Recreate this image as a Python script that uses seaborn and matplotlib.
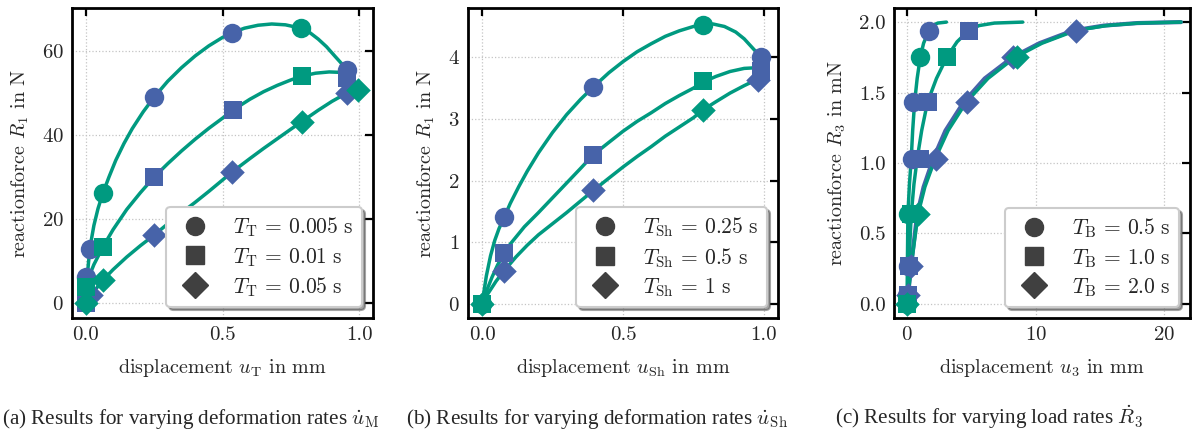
import matplotlib
matplotlib.use("Agg")
import matplotlib.pyplot as plt
import seaborn as sns
from matplotlib.lines import Line2D

# ---------------- data ----------------
# panel (a): displacement u_T [mm] vs reaction force R_1 [N]
a_circ_line_x = [0, 0.003, 0.008, 0.015, 0.03, 0.045, 0.063, 0.085, 0.11, 0.14, 0.17, 0.21, 0.25, 0.3, 0.35, 0.4,
                 0.45, 0.5, 0.535, 0.58, 0.63, 0.68, 0.73, 0.787, 0.82, 0.85, 0.88, 0.91, 0.935, 0.955, 0.965]
a_circ_line_y = [0, 4, 8, 13, 18.5, 22.5, 26.2, 30, 34, 38, 41.5, 45.5, 49, 52.8, 56, 58.8,
                 61.2, 63.2, 64.3, 65.4, 66.1, 66.4, 66.2, 65.4, 64.3, 62.8, 61, 58.8, 57, 55.5, 54.5]
a_sq_line_x = [0, 0.0, 0.01, 0.03, 0.063, 0.1, 0.15, 0.2, 0.25, 0.3, 0.35, 0.4, 0.45, 0.5, 0.535, 0.6, 0.65,
               0.7, 0.75, 0.79, 0.84, 0.89, 0.93, 0.96]
a_sq_line_y = [0, 3.8, 6, 9.2, 13.4, 17.5, 22.3, 26.3, 30, 33.2, 36.2, 39, 41.6, 44, 45.8, 48.5, 50.3,
               51.8, 53.1, 54, 54.7, 55, 54.9, 54.5]
a_dia_line_x = [0, 0.02, 0.063, 0.1, 0.15, 0.2, 0.25, 0.3, 0.35, 0.4, 0.45, 0.5, 0.535, 0.6, 0.65, 0.7, 0.75,
                0.79, 0.85, 0.9, 0.955, 1.0]
a_dia_line_y = [0, 2, 5.5, 8.0, 11, 13.7, 16.2, 18.9, 21.5, 24, 26.6, 29.3, 31.2, 34.4, 36.8, 39.1, 41.4,
                43.2, 45.9, 48, 50, 51]

a_circ_blue_x = [0.0, 0.015, 0.25, 0.535, 0.955]
a_circ_blue_y = [6.2, 13, 49, 64.3, 55.5]
a_sq_blue_x = [0.0, 0.25, 0.54, 0.955]
a_sq_blue_y = [0.0, 30, 46, 53.5]
a_dia_blue_x = [0.02, 0.25, 0.535, 0.955]
a_dia_blue_y = [2, 16.2, 31.2, 50]
a_circ_teal_x = [0.063, 0.787]
a_circ_teal_y = [26.2, 65.4]
a_sq_teal_x = [0.0, 0.063, 0.79]
a_sq_teal_y = [3.8, 13.4, 54]
a_dia_teal_x = [0.0, 0.063, 0.79, 0.995]
a_dia_teal_y = [0, 5.5, 43.2, 50.8]

# panel (b): displacement u_Sh [mm] vs reaction force R_1 [N]
b_circ_line_x = [0, 0.005, 0.015, 0.03, 0.045, 0.06, 0.079, 0.1, 0.13, 0.16, 0.2, 0.25, 0.3, 0.35, 0.395, 0.45,
                 0.5, 0.55, 0.6, 0.65, 0.7, 0.75, 0.785, 0.82, 0.86, 0.9, 0.93, 0.96, 0.98, 0.99]
b_circ_line_y = [0, 0.15, 0.45, 0.78, 1.03, 1.22, 1.41, 1.63, 1.9, 2.15, 2.45, 2.78, 3.07, 3.32, 3.52, 3.75,
                 3.93, 4.09, 4.22, 4.34, 4.43, 4.5, 4.53, 4.54, 4.5, 4.41, 4.3, 4.15, 4.05, 3.98]
b_sq_line_x = [0, 0.015, 0.035, 0.055, 0.079, 0.1, 0.15, 0.2, 0.25, 0.3, 0.35, 0.395, 0.45, 0.5, 0.55, 0.6,
               0.65, 0.7, 0.75, 0.785, 0.83, 0.88, 0.93, 0.97, 0.99]
b_sq_line_y = [0, 0.2, 0.43, 0.63, 0.83, 0.97, 1.25, 1.48, 1.72, 1.96, 2.2, 2.42, 2.62, 2.8, 2.96, 3.1,
               3.25, 3.38, 3.5, 3.6, 3.69, 3.77, 3.82, 3.83, 3.82]
b_dia_line_x = [0, 0.02, 0.05, 0.079, 0.12, 0.16, 0.2, 0.25, 0.3, 0.35, 0.395, 0.45, 0.5, 0.55, 0.6, 0.65,
                0.7, 0.75, 0.785, 0.83, 0.88, 0.93, 0.98]
b_dia_line_y = [0, 0.16, 0.37, 0.54, 0.76, 0.95, 1.12, 1.3, 1.48, 1.67, 1.84, 2.04, 2.22, 2.39, 2.55, 2.72,
                2.87, 3.02, 3.15, 3.28, 3.42, 3.54, 3.65]

b_circ_blue_x = [0.079, 0.395, 0.99]
b_circ_blue_y = [1.41, 3.52, 4.0]
b_sq_blue_x = [0.079, 0.395, 0.99]
b_sq_blue_y = [0.83, 2.42, 3.77]
b_dia_blue_x = [0.079, 0.395, 0.98]
b_dia_blue_y = [0.54, 1.84, 3.63]
b_circ_teal_x = [0, 0.785]
b_circ_teal_y = [0, 4.52]
b_sq_teal_x = [0, 0.785]
b_sq_teal_y = [0, 3.62]
b_dia_teal_x = [0, 0.785]
b_dia_teal_y = [0, 3.15]

# panel (c): displacement u_3 [mm] vs reaction force R_3 [mN]
c_circ_line_x = [0, 0.02, 0.04, 0.08, 0.2, 0.34, 0.45, 0.6, 0.8, 1.04, 1.3, 1.71, 2.0, 2.4, 3.07]
c_circ_line_y = [0, 0.066, 0.27, 0.635, 0.85, 1.03, 1.23, 1.43, 1.6, 1.75, 1.85, 1.94, 1.975, 1.993, 2.0]
c_sq_line_x = [0, 0.05, 0.15, 0.34, 0.55, 0.8, 1.15, 1.6, 2.3, 3.1, 3.9, 4.8, 5.6, 6.8, 9.0]
c_sq_line_y = [0, 0.066, 0.27, 0.635, 0.85, 1.03, 1.23, 1.43, 1.6, 1.75, 1.86, 1.94, 1.975, 1.993, 2.0]
c_dia_line_x = [0, 0.1, 0.34, 0.86, 1.4, 2.2, 3.2, 4.6, 6.3, 8.4, 10.5, 13.1, 15.5, 18.0, 21.3]
c_dia_line_y = [0, 0.066, 0.27, 0.635, 0.83, 1.03, 1.23, 1.43, 1.6, 1.75, 1.85, 1.94, 1.975, 1.993, 2.0]
c_dia_line2_x = [0, 0.1, 0.32, 0.8, 1.3, 2.05, 3.0, 4.4, 6.05, 8.2, 10.3, 12.9, 15.3, 17.9, 21.3]
c_dia_line2_y = [0, 0.066, 0.27, 0.635, 0.83, 1.03, 1.23, 1.43, 1.6, 1.75, 1.85, 1.94, 1.975, 1.993, 2.0]

c_circ_blue_x = [0.0, 0.1, 0.4, 0.5, 1.71]
c_circ_blue_y = [0.066, 0.27, 1.03, 1.43, 1.94]
c_sq_blue_x = [0.05, 0.15, 0.99, 1.64, 4.83]
c_sq_blue_y = [0.066, 0.27, 1.03, 1.43, 1.94]
c_dia_blue_x = [0.1, 0.34, 2.29, 4.7, 8.26, 13.14]
c_dia_blue_y = [0.066, 0.27, 1.03, 1.43, 1.75, 1.94]
c_circ_teal_x = [0, 0.05, 1.04]
c_circ_teal_y = [0, 0.635, 1.75]
c_sq_teal_x = [0, 0.3, 3.14]
c_sq_teal_y = [0, 0.635, 1.75]
c_dia_teal_x = [0, 0.86, 8.52]
c_dia_teal_y = [0, 0.635, 1.75]

a_labels = [r"$T_\mathrm{T}\,=\,0.005\ \mathrm{s}$", r"$T_\mathrm{T}\,=\,0.01\ \mathrm{s}$", r"$T_\mathrm{T}\,=\,0.05\ \mathrm{s}$"]
b_labels = [r"$T_\mathrm{Sh}\,=\,0.25\ \mathrm{s}$", r"$T_\mathrm{Sh}\,=\,0.5\ \mathrm{s}$", r"$T_\mathrm{Sh}\,=\,1\ \mathrm{s}$"]
c_labels = [r"$T_\mathrm{B}\,=\,0.5\ \mathrm{s}$", r"$T_\mathrm{B}\,=\,1.0\ \mathrm{s}$", r"$T_\mathrm{B}\,=\,2.0\ \mathrm{s}$"]

captions = [r"(a) Results for varying deformation rates $\dot{u}_\mathrm{M}$",
            r"(b) Results for varying deformation rates $\dot{u}_\mathrm{Sh}$",
            r"(c) Results for varying load rates $\dot{R}_3$"]

# ---------------- style ----------------
BLUE = "#4763A9"
TEAL = "#009A80"
DARK = "#404040"

sns.set_theme(style="white")
plt.rcParams.update({
    "font.family": ["cmr10"],
    "mathtext.fontset": "cm",
    "axes.formatter.use_mathtext": True,
    "axes.unicode_minus": False,
})

FS_TICK = 15
FS_LAB = 14.5
FS_LEG = 15.5
fig = plt.figure(figsize=(11.92, 4.33), dpi=100)
W, H = 1192, 433
def pos(l, r, t=8, b=318):
    return [l / W, 1 - b / H, (r - l) / W, (b - t) / H]

ax_a = fig.add_axes(pos(72, 373))
ax_b = fig.add_axes(pos(468, 778))
ax_c = fig.add_axes(pos(894, 1190))

markers = ["o", "s", "D"]
msz = {"o": 14, "s": 12.7, "D": 12.5}
leg_ms = {"o": 13, "s": 13, "D": 13}
LW = 2.5


def draw(ax, lines, blues, teals, extra_blue_lines=()):
    for lx, ly in extra_blue_lines:
        sns.lineplot(x=lx, y=ly, ax=ax, color=BLUE, lw=LW + 0.5, sort=False, estimator=None, zorder=2)
    for lx, ly in lines:
        sns.lineplot(x=lx, y=ly, ax=ax, color=TEAL, lw=LW, sort=False, estimator=None, zorder=2.5)
    for m, (bx, by) in zip(markers, blues):
        sns.scatterplot(x=bx, y=by, ax=ax, color=BLUE, marker=m, s=msz[m] ** 2, linewidth=0, zorder=3)
    for m, (tx, ty) in zip(markers, teals):
        sns.scatterplot(x=tx, y=ty, ax=ax, color=TEAL, marker=m, s=msz[m] ** 2, linewidth=0, zorder=3.5)


draw(ax_a,
     [(a_circ_line_x, a_circ_line_y), (a_sq_line_x, a_sq_line_y), (a_dia_line_x, a_dia_line_y)],
     [(a_circ_blue_x, a_circ_blue_y), (a_sq_blue_x, a_sq_blue_y), (a_dia_blue_x, a_dia_blue_y)],
     [(a_circ_teal_x, a_circ_teal_y), (a_sq_teal_x, a_sq_teal_y), (a_dia_teal_x, a_dia_teal_y)])
draw(ax_b,
     [(b_circ_line_x, b_circ_line_y), (b_sq_line_x, b_sq_line_y), (b_dia_line_x, b_dia_line_y)],
     [(b_circ_blue_x, b_circ_blue_y), (b_sq_blue_x, b_sq_blue_y), (b_dia_blue_x, b_dia_blue_y)],
     [(b_circ_teal_x, b_circ_teal_y), (b_sq_teal_x, b_sq_teal_y), (b_dia_teal_x, b_dia_teal_y)])
draw(ax_c,
     [(c_circ_line_x, c_circ_line_y), (c_sq_line_x, c_sq_line_y), (c_dia_line_x, c_dia_line_y)],
     [(c_circ_blue_x, c_circ_blue_y), (c_sq_blue_x, c_sq_blue_y), (c_dia_blue_x, c_dia_blue_y)],
     [(c_circ_teal_x, c_circ_teal_y), (c_sq_teal_x, c_sq_teal_y), (c_dia_teal_x, c_dia_teal_y)],
     extra_blue_lines=[(c_dia_line2_x, c_dia_line2_y)])

ax_a.set_xlim(-0.05, 1.05)
ax_a.set_ylim(-3.5, 70.2)
ax_b.set_xlim(-0.05, 1.05)
ax_b.set_ylim(-0.23, 4.8)
ax_c.set_xlim(-1.0, 22.0)
ax_c.set_ylim(-0.1, 2.1)
ax_a.set_xticks([0.0, 0.5, 1.0])
ax_b.set_xticks([0.0, 0.5, 1.0])
ax_c.set_xticks([0, 10, 20])
ax_a.set_yticks([0, 20, 40, 60])
ax_b.set_yticks([0, 1, 2, 3, 4])
ax_c.set_yticks([0.0, 0.5, 1.0, 1.5, 2.0])
ax_a.set_xticklabels(["0.0", "0.5", "1.0"])
ax_b.set_xticklabels(["0.0", "0.5", "1.0"])
ax_c.set_yticklabels(["0.0", "0.5", "1.0", "1.5", "2.0"])

xlabels = [r"displacement $u_\mathrm{T}$ in mm", r"displacement $u_\mathrm{Sh}$ in mm", r"displacement $u_3$ in mm"]
ylabels = [r"reactionforce $R_1$ in N", r"reactionforce $R_1$ in N", r"reactionforce $R_3$ in mN"]

for ax, xl, yl, labs in zip([ax_a, ax_b, ax_c], xlabels, ylabels, [a_labels, b_labels, c_labels]):
    ax.set_xlabel(xl, fontsize=FS_LAB, labelpad=9)
    ax.set_ylabel(yl, fontsize=FS_LAB, labelpad=8)
    ax.grid(True, ls=":", color="#c4c4c4", lw=0.9)
    ax.set_axisbelow(True)
    ax.tick_params(direction="in", top=True, right=True, length=6, width=1.6,
                   labelsize=FS_TICK, pad=6, color="black")
    for s in ax.spines.values():
        s.set_linewidth(2.0)
        s.set_color("black")
    handles = [Line2D([], [], ls="", marker=m, color=DARK, ms=leg_ms[m]) for m in markers]
    leg = ax.legend(handles, labs, loc="lower right", fontsize=FS_LEG, shadow=True, fancybox=True,
                    framealpha=1, edgecolor="#cccccc", handletextpad=0.8, labelspacing=0.3,
                    borderpad=0.4, handlelength=1.9, borderaxespad=0.5)
    leg.get_frame().set_linewidth(1.5)

cap_x = [2, 406, 835]
for x, cap in zip(cap_x, captions):
    fig.text(x / W, 1 - 424 / H, cap, fontsize=15.2, family="Liberation Serif", va="baseline", ha="left")

fig.savefig("out.png", dpi=100)
